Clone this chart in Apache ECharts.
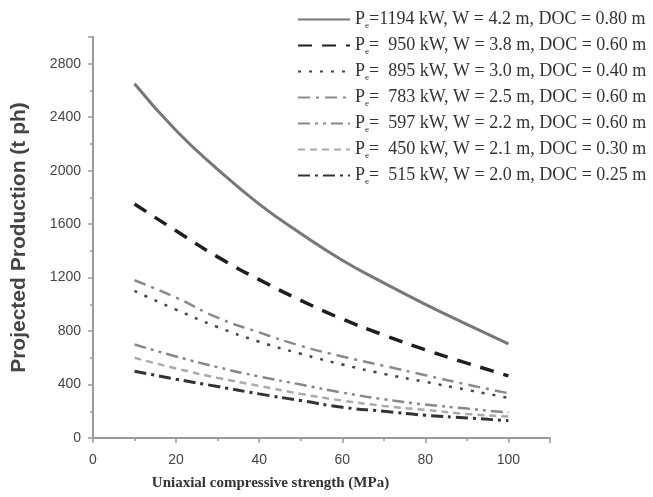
<!DOCTYPE html>
<html>
<head>
<meta charset="utf-8">
<script src="https://cdn.jsdelivr.net/npm/echarts@6/dist/echarts.min.js"></script>
<style>
html, body { margin: 0; padding: 0; background: #fff; }
#chart { width: 653px; height: 497px; }
</style>
</head>
<body>
<div id="chart"></div>
<script>
// x: uniaxial compressive strength (MPa)
var ucs = [10, 20, 30, 40, 50, 60, 70, 80, 90, 100];

// legend labels (subscript letter after P)
var labels = [
  'P|e|=1194 kW, W = 4.2 m, DOC = 0.80 m',
  'P|e|=  950 kW, W = 3.8 m, DOC = 0.60 m',
  'P|e|=  895 kW, W = 3.0 m, DOC = 0.40 m',
  'P|e|=  783 kW, W = 2.5 m, DOC = 0.60 m',
  'P|e|=  597 kW, W = 2.2 m, DOC = 0.60 m',
  'P|e|=  450 kW, W = 2.1 m, DOC = 0.30 m',
  'P|e|=  515 kW, W = 2.0 m, DOC = 0.25 m'
];

// projected production (t/h)
var prod1194 = [2650, 2300, 2010, 1750, 1530, 1330, 1160, 1000, 850, 705];
var prod950  = [1750, 1550, 1355, 1185, 1030, 890, 770, 660, 560, 465];
var prod895  = [1100, 960, 830, 720, 630, 550, 480, 420, 360, 300];
var prod783  = [1180, 1050, 900, 790, 690, 610, 540, 470, 400, 335];
var prod597  = [700, 610, 530, 460, 400, 340, 290, 250, 220, 190];
var prod450  = [600, 520, 450, 390, 330, 280, 240, 210, 180, 160];
var prod515  = [500, 440, 385, 330, 280, 230, 200, 170, 150, 130];

var allData = [prod1194, prod950, prod895, prod783, prod597, prod450, prod515];

// line looks
var styles = [
  { color: '#777', width: 3, type: 'solid' },
  { color: '#1e1e1e', width: 3.5, type: [14, 10] },
  { color: '#444', width: 2.5, type: [3, 8] },
  { color: '#8a8a8a', width: 2.5, type: [12, 6, 3, 6] },
  { color: '#888', width: 2.5, type: [12, 5, 3, 5, 3, 5] },
  { color: '#aaa', width: 2.5, type: [7, 5] },
  { color: '#333', width: 3, type: [12, 5, 3, 5] }
];

var myChart = echarts.init(document.getElementById('chart'));

var series = [];
for (var i = 0; i < allData.length; i++) {
  var pts = [];
  for (var j = 0; j < ucs.length; j++) {
    pts.push([ucs[j], allData[i][j]]);
  }
  series.push({
    name: labels[i],
    type: 'line',
    data: pts,
    smooth: true,
    symbol: 'none',
    lineStyle: styles[i],
    itemStyle: { color: styles[i].color }
  });
}

var axisColor = '#9a9a9a';

option = {
  backgroundColor: '#fff',
  animation: false,
  grid: { left: 93, right: 103, top: 37, bottom: 59 },
  legend: {
    orient: 'vertical',
    left: 292,
    top: 4,
    itemWidth: 52,
    itemHeight: 14,
    itemGap: 5,
    itemStyle: { opacity: 0 },
    data: labels,
    formatter: function (name) {
      var p = name.split('|');
      return '{p|' + p[0] + '}{s|' + p[1] + '}{t|' + p[2] + '}';
    },
    textStyle: {
      fontFamily: 'Liberation Serif',
      fontSize: 18,
      color: '#333',
      lineHeight: 21,
      rich: {
        p: { fontFamily: 'Liberation Serif', fontSize: 18, color: '#333' },
        s: { fontFamily: 'Liberation Serif', fontSize: 9, color: '#333', padding: [12, 0, 0, 0] },
        t: { fontFamily: 'Liberation Serif', fontSize: 18, color: '#333' }
      }
    }
  },
  xAxis: {
    type: 'value',
    min: 0,
    max: 110,
    interval: 20,
    name: 'Uniaxial compressive strength (MPa)',
    nameLocation: 'middle',
    nameGap: 38,
    nameTextStyle: {
      fontFamily: 'Liberation Serif',
      fontWeight: 'bold',
      fontSize: 15,
      color: '#333',
      padding: [0, 102, 0, 0]
    },
    splitLine: { show: false },
    axisLine: { lineStyle: { color: axisColor, width: 2 } },
    axisTick: { length: 5, lineStyle: { color: axisColor, width: 1.5 } },
    minorTick: { show: true, splitNumber: 2, length: 3, lineStyle: { color: axisColor, width: 1.5 } },
    axisLabel: {
      showMaxLabel: false,
      margin: 15,
      fontFamily: 'Liberation Sans',
      fontSize: 14,
      color: '#444'
    }
  },
  yAxis: {
    type: 'value',
    min: 0,
    max: 3000,
    interval: 400,
    name: 'Projected Production (t ph)',
    nameLocation: 'middle',
    nameGap: 63,
    nameTextStyle: {
      fontFamily: 'Liberation Sans',
      fontWeight: 'bold',
      fontSize: 21,
      color: '#444'
    },
    splitLine: { show: false },
    axisLine: { show: true, lineStyle: { color: axisColor, width: 2 } },
    axisTick: { show: true, length: 5, lineStyle: { color: axisColor, width: 1.5 } },
    minorTick: { show: true, splitNumber: 2, length: 3, lineStyle: { color: axisColor, width: 1.5 } },
    axisLabel: {
      showMaxLabel: false,
      margin: 12,
      fontFamily: 'Liberation Sans',
      fontSize: 14,
      color: '#444',
      formatter: function (v) { return String(v); }
    }
  },
  series: series
};

myChart.setOption(option);
</script>
</body>
</html>
